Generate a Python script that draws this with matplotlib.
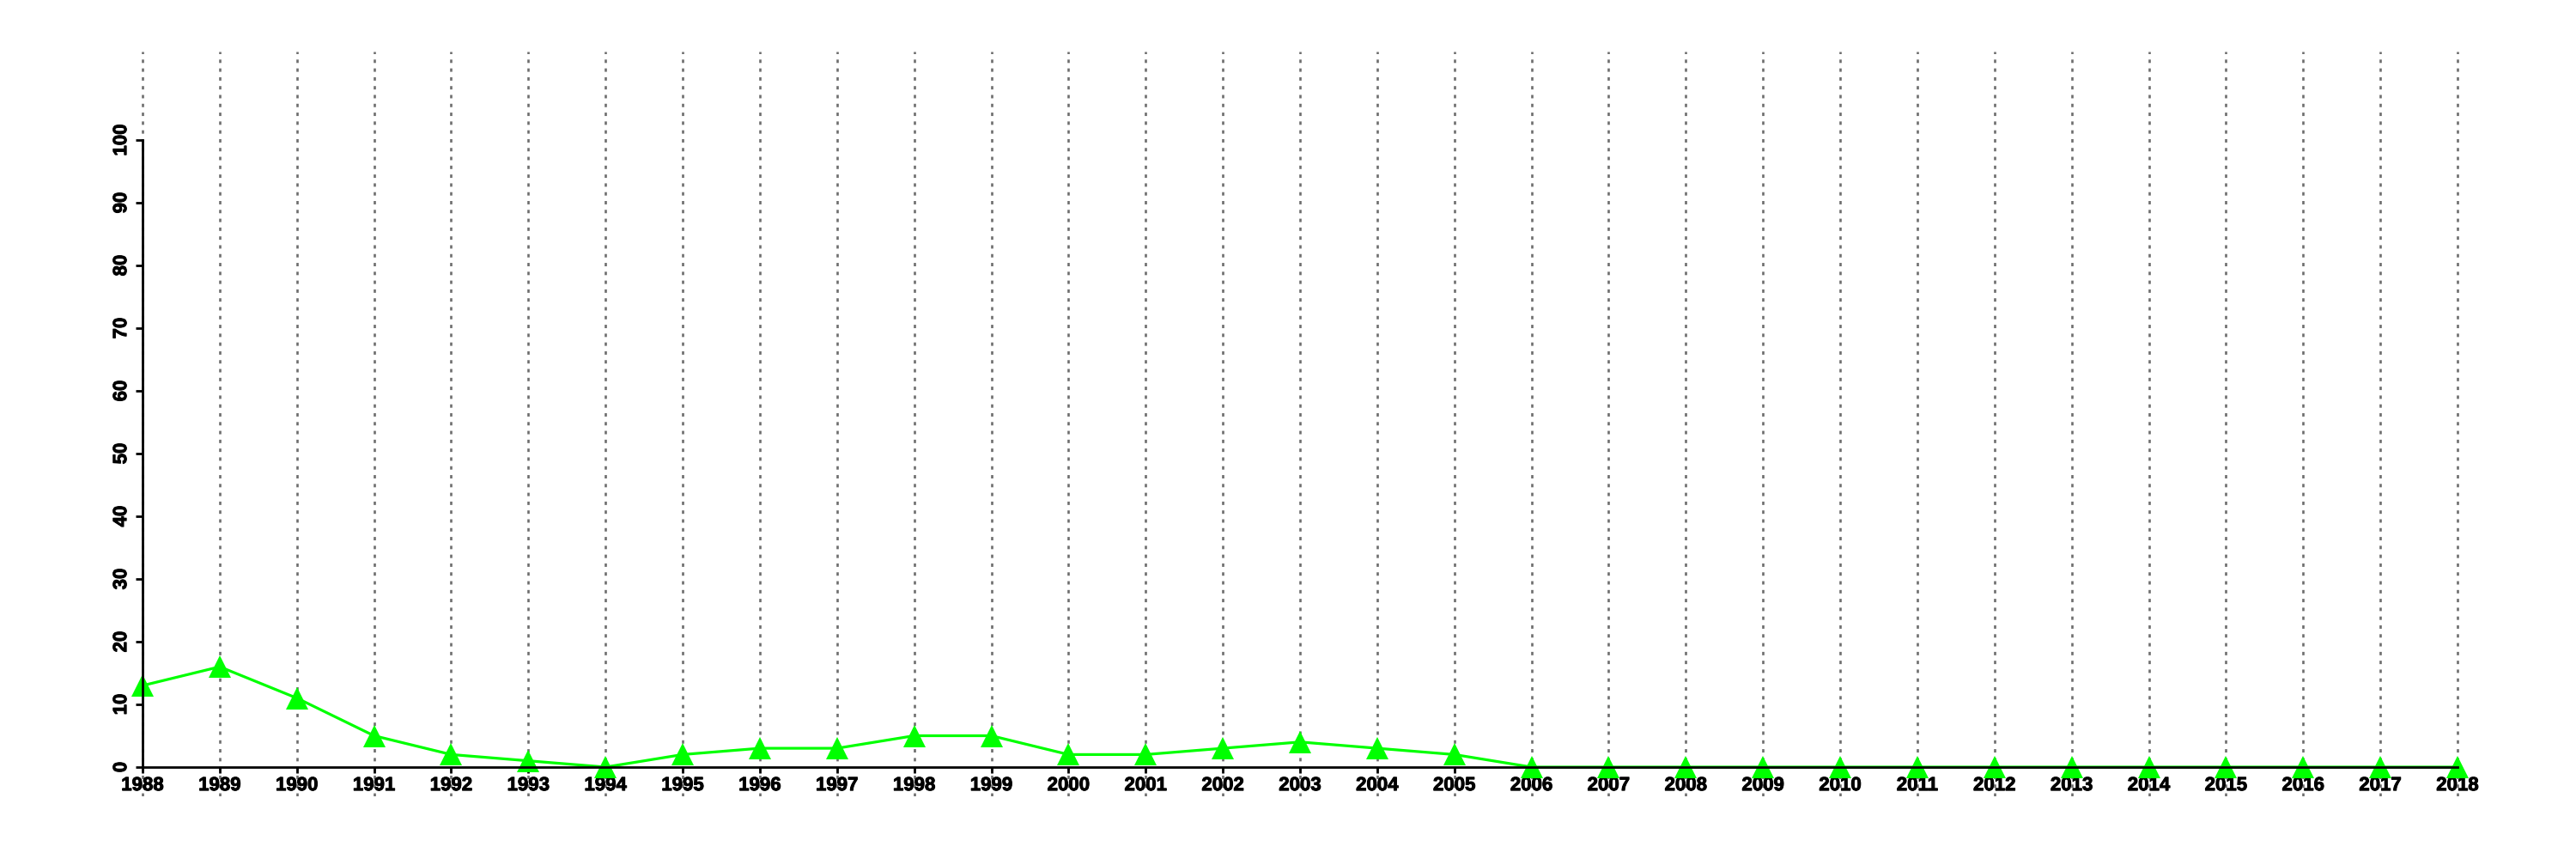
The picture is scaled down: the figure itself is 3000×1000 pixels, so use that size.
import matplotlib
matplotlib.use("Agg")
import matplotlib.pyplot as plt
import matplotlib.patheffects as pe

years = list(range(1988, 2019))
values = [13, 16, 11, 5, 2, 1, 0, 2, 3, 3, 5, 5, 2, 2, 3, 4, 3, 2,
          0, 0, 0, 0, 0, 0, 0, 0, 0, 0, 0, 0, 0]
yticks = [0, 10, 20, 30, 40, 50, 60, 70, 80, 90, 100]

W, H = 3000, 1000
fig = plt.figure(figsize=(30, 10), dpi=100)

x0_px, x1_px = 166, 2862
y0_px, y100_px = 893, 163
ppy = (x1_px - x0_px) / (years[-1] - years[0])
ppv = (y0_px - y100_px) / 100.0
top_px, bot_px = 60, 927
xmin, xmax = years[0] - 0.5, years[-1] + 0.5
ymax = (y0_px - top_px) / ppv
ymin = -(bot_px - y0_px) / ppv
left = (x0_px - 0.5 * ppy) / W
width = (years[-1] - years[0] + 1) * ppy / W
bottom = (H - bot_px) / H
height = (bot_px - top_px) / H
ax = fig.add_axes([left, bottom, width, height])
ax.set_xlim(xmin, xmax)
ax.set_ylim(ymin, ymax)

# vertical dotted grid
ax.vlines(years, ymin, ymax, colors="#6e6e6e", linewidth=1.9,
          linestyles=(0, (1.5, 2.4)), zorder=1)

ax.plot(years, values, color="#00ff00", linewidth=2.3, marker="^",
        markersize=19, markeredgewidth=0, clip_on=False, zorder=3)

for s in ["top", "right"]:
    ax.spines[s].set_visible(False)
ax.spines["left"].set_position(("data", years[0]))
ax.spines["left"].set_bounds(0, 100)
ax.spines["bottom"].set_position(("data", 0))
ax.spines["bottom"].set_bounds(years[0], years[-1])
for s in ["left", "bottom"]:
    ax.spines[s].set_linewidth(2.0)
    ax.spines[s].set_zorder(5)

font = ["Liberation Sans", "DejaVu Sans"]
heavy = [pe.withStroke(linewidth=0.7, foreground="black")]
ax.set_yticks(yticks)
ax.set_yticklabels([str(v) for v in yticks], rotation=90, va="center",
                   fontfamily=font, fontweight="bold", fontsize=16)
ax.tick_params(axis="y", length=6, width=2, pad=4)
ax.set_xticks(years)
ax.set_xticklabels([str(y) for y in years], fontfamily=font,
                   fontweight="bold", fontsize=16)
ax.tick_params(axis="x", length=5, width=2, pad=3)
for t in ax.xaxis.get_major_ticks():
    t.tick1line.set_zorder(5)
for lab in ax.get_xticklabels() + ax.get_yticklabels():
    lab.set_path_effects(heavy)

fig.savefig("out.png", dpi=100)
